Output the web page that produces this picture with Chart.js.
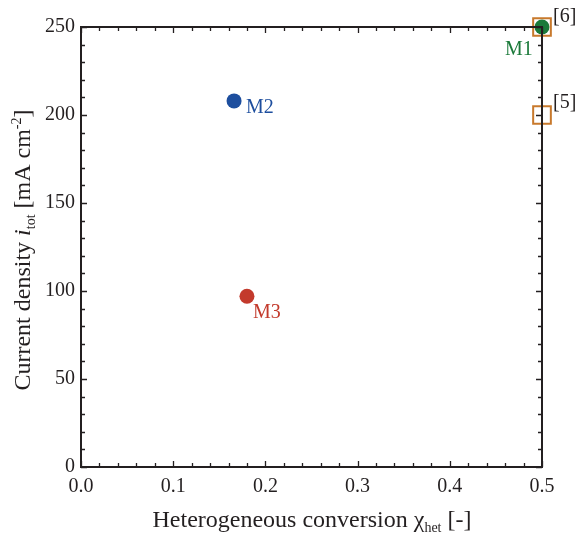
<!DOCTYPE html>
<html>
<head>
<meta charset="utf-8">
<script src="https://cdn.jsdelivr.net/npm/chart.js@4.4.1/dist/chart.umd.min.js"></script>
<style>
  html, body { margin: 0; padding: 0; background: #fff; }
  #wrap { width: 579px; height: 535px; }
</style>
</head>
<body>
<div id="wrap"><canvas id="chart" width="579" height="535"></canvas></div>
<script>
// model points
const modelNames = ['M1', 'M2', 'M3'];
const modelX = [0.5, 0.166, 0.18];
const modelY = [250, 208, 97];
const modelColors = ['#1b7a3a', '#1d4e9e', '#c33a2c'];

// literature points
const refNames = ['[6]', '[5]'];
const refX = [0.5, 0.5];
const refY = [250, 200];
const refColor = '#c8792c';

const xTicks = [0, 0.1, 0.2, 0.3, 0.4, 0.5];
const yTicks = [0, 50, 100, 150, 200, 250];

const serif = '"Liberation Serif", "Times New Roman", serif';
const ink = '#231f20';

// label offsets relative to the point, px
const modelLabelOffset = [[-37, 23], [12, 7], [6, 16]];
const refLabelOffset = [[11, -10], [11, -12]];

const datasets = [];
datasets.push({
  label: 'refs',
  data: refX.map((x, i) => ({ x: x, y: refY[i] })),
  pointStyle: 'rect',
  pointRadius: 12.5,
  pointHoverRadius: 12.5,
  borderColor: refColor,
  backgroundColor: 'rgba(0,0,0,0)',
  borderWidth: 2,
  showLine: false,
  clip: false,
});
for (let i = 0; i < modelNames.length; i++) {
  datasets.push({
    label: modelNames[i],
    data: [{ x: modelX[i], y: modelY[i] }],
    pointStyle: 'circle',
    pointRadius: 7.5,
    pointHoverRadius: 7.5,
    backgroundColor: modelColors[i],
    borderColor: modelColors[i],
    borderWidth: 0,
    showLine: false,
    clip: false,
  });
}

function drawRich(ctx, parts, x, y) {
  // parts: [text, size, style, shift]
  let total = 0;
  parts.forEach(p => {
    ctx.font = `${p[2] || 'normal'} ${p[1]}px ${serif}`;
    total += ctx.measureText(p[0]).width;
  });
  let cx = x - total / 2;
  parts.forEach(p => {
    ctx.font = `${p[2] || 'normal'} ${p[1]}px ${serif}`;
    ctx.fillText(p[0], cx, y + (p[3] || 0));
    cx += ctx.measureText(p[0]).width;
  });
}

const decorations = {
  id: 'decorations',
  afterDraw(chart) {
    const ctx = chart.ctx;
    const a = chart.chartArea;
    const xs = chart.scales.x;
    const ys = chart.scales.y;
    ctx.save();
    ctx.strokeStyle = ink;
    ctx.lineWidth = 1.3;
    // inward ticks on all four sides
    ctx.beginPath();
    for (let v = 0; v <= 50; v += 2) {
      const px = Math.round(xs.getPixelForValue(v / 100)) + 0.5;
      const len = v % 10 === 0 ? 6 : 4;
      ctx.moveTo(px, a.bottom); ctx.lineTo(px, a.bottom - len);
      ctx.moveTo(px, a.top); ctx.lineTo(px, a.top + len);
    }
    for (let v = 0; v <= 250; v += 10) {
      const py = Math.round(ys.getPixelForValue(v)) + 0.5;
      const len = v % 50 === 0 ? 6 : 4;
      ctx.moveTo(a.left, py); ctx.lineTo(a.left + len, py);
      ctx.moveTo(a.right, py); ctx.lineTo(a.right - len, py);
    }
    ctx.stroke();
    ctx.lineWidth = 2;
    ctx.strokeRect(a.left, a.top, a.right - a.left, a.bottom - a.top);

    // point labels
    ctx.font = `20px ${serif}`;
    ctx.textBaseline = 'middle';
    ctx.textAlign = 'left';
    for (let i = 0; i < modelNames.length; i++) {
      ctx.fillStyle = modelColors[i];
      ctx.fillText(modelNames[i],
        xs.getPixelForValue(modelX[i]) + modelLabelOffset[i][0],
        ys.getPixelForValue(modelY[i]) + modelLabelOffset[i][1]);
    }
    ctx.fillStyle = ink;
    for (let i = 0; i < refNames.length; i++) {
      ctx.fillText(refNames[i],
        xs.getPixelForValue(refX[i]) + refLabelOffset[i][0],
        ys.getPixelForValue(refY[i]) + refLabelOffset[i][1]);
    }

    // axis titles
    ctx.textAlign = 'left';
    ctx.textBaseline = 'alphabetic';
    drawRich(ctx, [
      ['Heterogeneous conversion ', 24],
      ['\u03c7', 24],
      ['het', 14, 'normal', 5],
      [' [-]', 24],
    ], 312, 527);

    ctx.translate(30, 250);
    ctx.rotate(-Math.PI / 2);
    drawRich(ctx, [
      ['Current density ', 24],
      ['i', 24, 'italic'],
      ['tot', 14, 'normal', 5],
      [' [mA cm', 24],
      ['-2', 14, 'normal', -9],
      [']', 24],
    ], 0, 0);
    ctx.restore();
  }
};

new Chart(document.getElementById('chart'), {
  type: 'scatter',
  data: { datasets: datasets },
  options: {
    responsive: false,
    animation: false,
    layout: { padding: { top: 27, right: 37, left: 0, bottom: 0 } },
    plugins: { legend: { display: false }, tooltip: { enabled: false } },
    scales: {
      x: {
        type: 'linear',
        min: 0,
        max: 0.5,
        afterBuildTicks: (s) => { s.ticks = xTicks.map(v => ({ value: v })); },
        afterFit: (s) => { s.height = 68; },
        grid: { display: false, drawTicks: false },
        border: { display: false },
        ticks: {
          color: ink,
          padding: 8,
          maxRotation: 0,
          font: { family: serif, size: 20 },
          callback: (v) => Number(v).toFixed(1),
        },
      },
      y: {
        type: 'linear',
        min: 0,
        max: 250,
        afterBuildTicks: (s) => { s.ticks = yTicks.map(v => ({ value: v })); },
        afterFit: (s) => { s.width = 81; },
        grid: { display: false, drawTicks: false },
        border: { display: false },
        ticks: {
          color: ink,
          padding: 6,
          font: { family: serif, size: 20 },
        },
      },
    },
  },
  plugins: [decorations],
});
</script>
</body>
</html>
